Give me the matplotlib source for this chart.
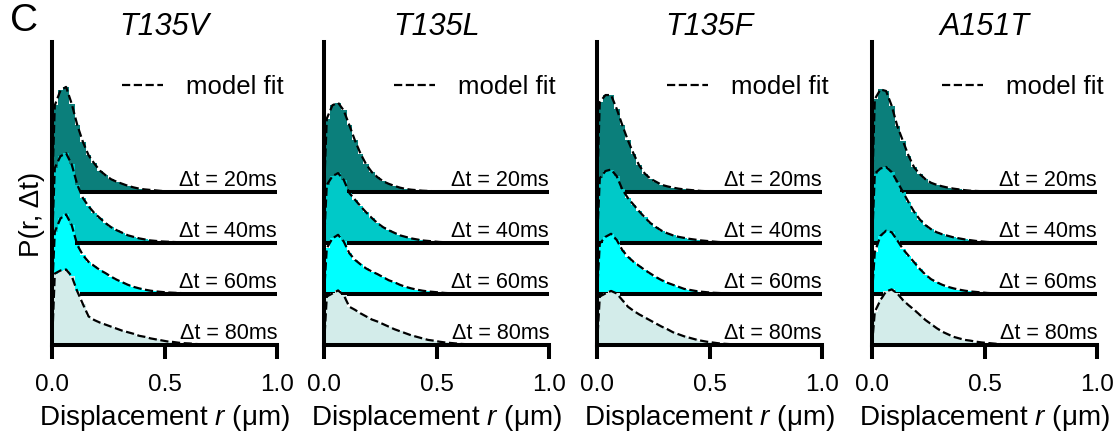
import numpy as np
import matplotlib
matplotlib.use("Agg")
import matplotlib.pyplot as plt

plt.rcParams['font.family'] = ['Liberation Sans', 'DejaVu Sans']
plt.rcParams['mathtext.fontset'] = 'custom'
plt.rcParams['mathtext.rm'] = 'Liberation Sans'
plt.rcParams['mathtext.it'] = 'Liberation Sans:italic'

# histogram heights (bins of 0.025 um)
mutants = ['T135V', 'T135L', 'T135F', 'A151T']
lags = ['20ms', '40ms', '60ms', '80ms']
bin_w = 0.025

T135V = [
    [1.70, 1.99, 2.06, 1.73, 1.31, 0.98, 0.72, 0.56, 0.42, 0.33, 0.25, 0.20, 0.16, 0.12, 0.09, 0.065, 0.05, 0.04, 0.03, 0.02, 0.015, 0.01, 0.01, 0.005, 0.005, 0, 0, 0],
    [1.47, 1.70, 1.76, 1.54, 1.14, 0.88, 0.72, 0.59, 0.49, 0.39, 0.31, 0.25, 0.20, 0.15, 0.12, 0.09, 0.07, 0.05, 0.04, 0.03, 0.025, 0.02, 0.015, 0.01, 0.005, 0, 0, 0],
    [1.22, 1.48, 1.56, 1.35, 0.96, 0.76, 0.63, 0.55, 0.47, 0.41, 0.34, 0.28, 0.23, 0.18, 0.14, 0.11, 0.085, 0.065, 0.05, 0.04, 0.03, 0.025, 0.02, 0.015, 0.01, 0.005, 0, 0],
    [1.40, 1.46, 1.48, 1.35, 1.05, 0.80, 0.56, 0.49, 0.44, 0.40, 0.36, 0.32, 0.28, 0.25, 0.22, 0.18, 0.16, 0.13, 0.11, 0.09, 0.07, 0.06, 0.045, 0.035, 0.03, 0.02, 0.015, 0.01],
]
T135L = [
    [1.44, 1.70, 1.75, 1.60, 1.31, 1.01, 0.75, 0.54, 0.39, 0.29, 0.21, 0.16, 0.12, 0.085, 0.06, 0.045, 0.035, 0.025, 0.02, 0.015, 0.01, 0.01, 0.005, 0.005, 0, 0, 0, 0],
    [1.14, 1.31, 1.37, 1.24, 0.98, 0.85, 0.72, 0.60, 0.49, 0.39, 0.31, 0.25, 0.20, 0.15, 0.12, 0.09, 0.07, 0.05, 0.04, 0.03, 0.02, 0.015, 0.01, 0.005, 0, 0, 0, 0],
    [0.90, 1.09, 1.16, 1.03, 0.80, 0.67, 0.58, 0.50, 0.44, 0.39, 0.33, 0.27, 0.23, 0.18, 0.14, 0.11, 0.085, 0.065, 0.05, 0.04, 0.03, 0.02, 0.015, 0.01, 0.005, 0, 0, 0],
    [0.95, 1.01, 1.07, 0.98, 0.75, 0.69, 0.62, 0.56, 0.50, 0.46, 0.41, 0.36, 0.31, 0.27, 0.23, 0.19, 0.16, 0.13, 0.10, 0.085, 0.065, 0.05, 0.04, 0.03, 0.02, 0.015, 0.01, 0.005],
]
T135F = [
    [1.76, 1.90, 1.90, 1.63, 1.31, 1.01, 0.75, 0.52, 0.36, 0.26, 0.20, 0.14, 0.11, 0.085, 0.065, 0.05, 0.04, 0.03, 0.02, 0.015, 0.01, 0.01, 0.005, 0, 0, 0, 0, 0],
    [1.27, 1.41, 1.44, 1.31, 1.05, 0.88, 0.75, 0.62, 0.50, 0.39, 0.31, 0.24, 0.19, 0.15, 0.12, 0.10, 0.08, 0.065, 0.05, 0.04, 0.03, 0.02, 0.015, 0.01, 0.005, 0, 0, 0],
    [0.99, 1.12, 1.18, 1.06, 0.86, 0.73, 0.63, 0.55, 0.47, 0.40, 0.33, 0.27, 0.22, 0.18, 0.14, 0.10, 0.08, 0.06, 0.045, 0.035, 0.025, 0.02, 0.015, 0.01, 0.005, 0, 0, 0],
    [0.95, 1.01, 1.06, 1.01, 0.88, 0.75, 0.67, 0.60, 0.54, 0.48, 0.42, 0.36, 0.31, 0.25, 0.21, 0.17, 0.14, 0.11, 0.085, 0.065, 0.05, 0.035, 0.025, 0.018, 0.012, 0.008, 0.005, 0],
]
A151T = [
    [1.82, 2.01, 1.98, 1.69, 1.29, 1.00, 0.71, 0.48, 0.35, 0.25, 0.18, 0.14, 0.11, 0.085, 0.065, 0.05, 0.035, 0.025, 0.02, 0.015, 0.01, 0.005, 0.005, 0, 0, 0, 0, 0],
    [1.36, 1.46, 1.49, 1.39, 1.20, 1.00, 0.80, 0.61, 0.46, 0.35, 0.27, 0.21, 0.17, 0.14, 0.11, 0.09, 0.07, 0.055, 0.04, 0.03, 0.02, 0.015, 0.01, 0.005, 0, 0, 0, 0],
    [0.82, 1.14, 1.24, 1.21, 1.05, 0.88, 0.75, 0.62, 0.49, 0.38, 0.29, 0.23, 0.18, 0.14, 0.11, 0.085, 0.065, 0.05, 0.04, 0.03, 0.02, 0.015, 0.01, 0.005, 0, 0, 0, 0],
    [0.65, 0.88, 1.05, 1.09, 1.01, 0.88, 0.78, 0.69, 0.59, 0.49, 0.41, 0.33, 0.26, 0.21, 0.16, 0.13, 0.10, 0.085, 0.065, 0.05, 0.04, 0.03, 0.02, 0.015, 0.01, 0.005, 0, 0],
]
panels = [T135V, T135L, T135F, A151T]
colors = ['#0b7f7b', '#00c9c8', '#00ffff', '#d3ecea']

W, H = 1118, 434
fig = plt.figure(figsize=(W / 100, H / 100), dpi=100)
lefts = [52, 324, 597, 872]
lw = 2.9

for p, (name, data) in enumerate(zip(mutants, panels)):
    ax = fig.add_axes([lefts[p] / W, 89 / H, 225 / W, 303 / H])
    n = len(lags)
    for i, (lag, h) in enumerate(zip(lags, data)):
        h = np.array(h)
        off = n - 1 - i
        z = 3 + 3 * i
        edges = np.arange(len(h) + 1) * bin_w
        centers = edges[:-1] + bin_w / 2
        ax.stairs(h + off, edges, baseline=off, fill=True, color=colors[i],
                  lw=0, zorder=z)
        ax.plot(np.r_[0, centers], np.r_[0, h] + off, '--', color='black',
                lw=1.6, zorder=z + 1, label='model fit' if i == 0 else None)
        if off > 0:
            ax.hlines(off, 0, 1.0, color='black', lw=lw, zorder=z + 0.5)
        ax.text(1.0, off + 0.12, '\u0394t = ' + lag, ha='right', va='baseline',
                fontsize=15.5, zorder=40)
    ax.set_xlim(0, 1.0)
    ax.set_ylim(0, 5.94)
    ax.set_yticks([])
    ax.set_xticks([0, 0.5, 1.0])
    ax.set_xticklabels(['0.0', '0.5', '1.0'])
    ax.tick_params(axis='x', length=10, width=lw, direction='out',
                   labelsize=17.5, pad=11)
    for s in ['top', 'right']:
        ax.spines[s].set_visible(False)
    for s in ['left', 'bottom']:
        ax.spines[s].set_linewidth(lw)
        ax.spines[s].set_zorder(50)
    ax.patch.set_visible(False)
    ax.set_title(name, fontsize=22, style='italic', pad=4)
    ax.set_xlabel('Displacement $r$ (\u03bcm)', fontsize=20, labelpad=5)
    leg = ax.legend(loc='center right', bbox_to_anchor=(1.03, 0.85),
                    frameon=False, fontsize=18.5, handlelength=1.6,
                    handletextpad=0.9, borderpad=0, borderaxespad=0)
    leg.set_zorder(60)
    if p == 0:
        ax.set_ylabel('P(r, \u0394t)', fontsize=20)
        ax.yaxis.set_label_coords(-0.03, 0.43)

# panel letter
fig.text(10 / W, 1 - 31 / H, 'C', fontsize=28, va='baseline', ha='left')

fig.savefig('out.png', dpi=100)
